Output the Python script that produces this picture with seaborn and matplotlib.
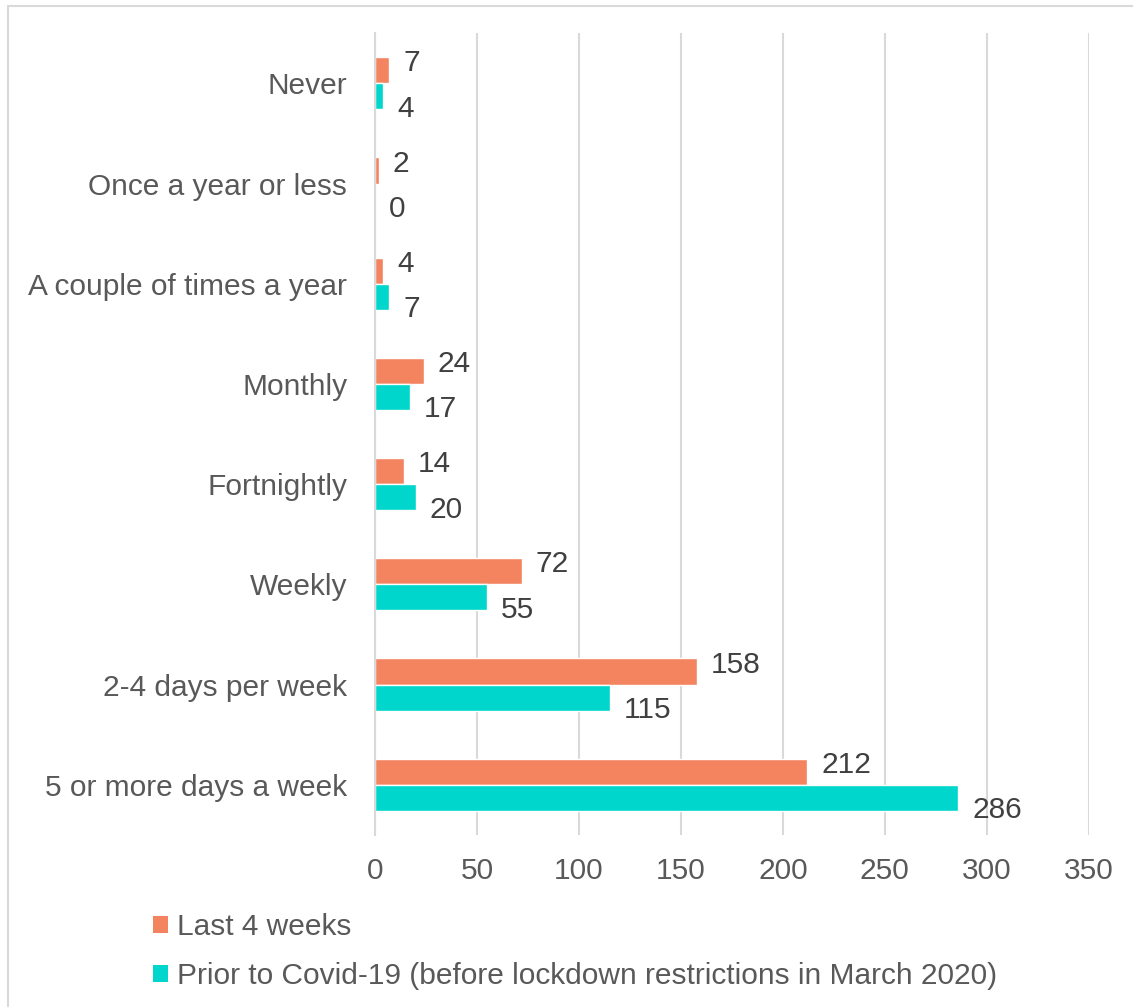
#%% Imports
import pandas as pd
import seaborn as sns
import matplotlib.pyplot as plt
from matplotlib.lines import Line2D
from matplotlib.patches import Patch

#%% Data
categories = ['Never', 'Once a year or less', 'A couple of times a year', 'Monthly',
              'Fortnightly', 'Weekly', '2-4 days per week', '5 or more days a week']
last_4_weeks = [7, 2, 4, 24, 14, 72, 158, 212]
prior_covid = [4, 0, 7, 17, 20, 55, 115, 286]
series_names = ['Last 4 weeks', 'Prior to Covid-19 (before lockdown restrictions in March 2020)']
x_ticks = [0, 50, 100, 150, 200, 250, 300, 350]

df = pd.DataFrame({
    'category': categories * 2,
    'value': last_4_weeks + prior_covid,
    'series': [series_names[0]] * len(categories) + [series_names[1]] * len(categories),
})

#%% Plot
sns.set_style('white')
plt.rcParams['font.family'] = ['Liberation Sans', 'DejaVu Sans']
palette = {series_names[0]: '#F4845F', series_names[1]: '#00D6CC'}
text_grey = '#595959'
label_grey = '#404040'
fsize = 21.5

fig = plt.figure(figsize=(11.33, 10.07), dpi=100)
ax = fig.add_axes([0.331, 0.171, 0.630, 0.796])

sns.barplot(data=df, y='category', x='value', hue='series', order=categories,
            hue_order=series_names, palette=palette, orient='h', width=0.52,
            saturation=1, legend=False, ax=ax)

# value labels, nudged away from the middle of each pair
for cont, dy in zip(ax.containers, [5, -9]):
    anns = ax.bar_label(cont, padding=10, fontsize=fsize, color=label_grey)
    for a in anns:
        a.xyann = (10, dy)

ax.set_xlim(0, 350)
ax.set_xticks(x_ticks)
ax.set_xlabel('')
ax.set_ylabel('')
ax.tick_params(axis='both', labelsize=fsize, colors=text_grey, length=0)
ax.tick_params(axis='y', pad=20)
ax.tick_params(axis='x', pad=16)
ax.xaxis.grid(True, color='#D9D9D9', linewidth=1.5)
ax.set_axisbelow(True)
for s in ['top', 'right', 'bottom']:
    ax.spines[s].set_visible(False)
ax.spines['left'].set_color('#D9D9D9')
ax.spines['left'].set_linewidth(1.5)

# legend at bottom left
handles = [Patch(facecolor=palette[n], edgecolor='none') for n in series_names]
fig.legend(handles, series_names, loc='upper left', bbox_to_anchor=(0.111, 0.12),
           frameon=False, fontsize=fsize, labelcolor=text_grey, handlelength=0.5,
           handleheight=0.5, handletextpad=0.3, labelspacing=0.7)

# light chart border
fig.add_artist(Line2D([0.0075, 0.0075], [0, 0.994], color='#D9D9D9', linewidth=1.5))
fig.add_artist(Line2D([0.0075, 1], [0.994, 0.994], color='#D9D9D9', linewidth=1.5))

fig.savefig('out.png', dpi=100)
